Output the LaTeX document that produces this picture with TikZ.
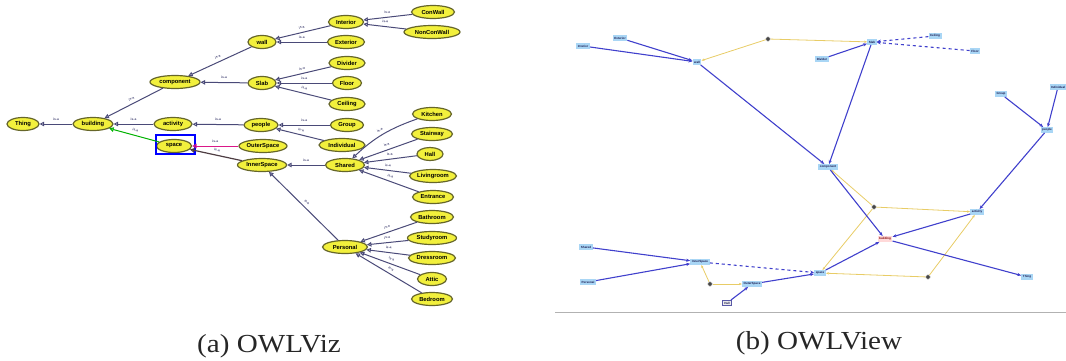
\documentclass[tikz,border=0pt]{standalone}
\usepackage{fontspec}
\setmainfont{Liberation Serif}
\newfontfamily\lblfont{Liberation Sans}
\usetikzlibrary{shapes.geometric,arrows.meta}
\definecolor{ovfill}{HTML}{F2F03C}
\definecolor{ovdraw}{HTML}{66662A}
\definecolor{isaedge}{HTML}{4A4A78}
\definecolor{bluedge}{HTML}{4040CC}
\definecolor{yeledge}{HTML}{E8CC66}
\definecolor{rbox}{HTML}{A9D6F5}
\definecolor{rtext}{HTML}{1A1A50}
\tikzset{
  ov/.style={ellipse, draw=ovdraw, fill=ovfill, line width=1.2pt, inner sep=0pt,
    minimum height=13, font=\lblfont\bfseries\fontsize{5.8}{6}\selectfont},
  isa/.style={draw=isaedge, line width=1pt, -{Triangle[open,length=4.5pt,width=4.5pt]}},
  isalbl/.style={font=\lblfont\bfseries\fontsize{3.3}{3.3}\selectfont, midway, above=0pt, sloped, text=isaedge},
  rn/.style={rectangle, fill=rbox, inner xsep=1.5pt, inner ysep=0.8pt, minimum height=5.5,
    text=rtext, font=\lblfont\bfseries\fontsize{3}{3.2}\selectfont},
  dotn/.style={circle, fill=gray!55!black, draw=gray!35, line width=0.5pt, inner sep=0pt, minimum size=4.5},
  be/.style={draw=bluedge, line width=1.1pt, -{Stealth[length=4pt,width=3.2pt]}},
  ye/.style={draw=yeledge, line width=0.8pt, -{Stealth[length=3pt,width=2.4pt]}},
  captext/.style={font=\fontsize{26}{28}\selectfont, xscale=1.12, text=black!85}
}
\begin{document}
\begin{tikzpicture}[x=1pt,y=-1pt]
\useasboundingbox (0,0) rectangle (1066,360);
% ---------- (a) OWLViz ----------
\node[ov, minimum width=32] (Thing) at (23,124) {Thing};
\node[ov, minimum width=40] (building) at (93,124) {building};
\node[ov, minimum width=50] (component) at (175,82) {component};
\node[ov, minimum width=38] (activity) at (173,124) {activity};
\node[ov, minimum width=35] (space) at (174,146) {space};
\node[draw=blue, line width=1.2pt, minimum width=39, minimum height=19, inner sep=0pt] (spacebox) at (175.5,144.5) {};
\node[ov, minimum width=28] (wall) at (262,42) {wall};
\node[ov, minimum width=28] (Slab) at (262,83) {Slab};
\node[ov, minimum width=34] (people) at (261,125) {people};
\node[ov, minimum width=48] (OuterSpace) at (263,146) {OuterSpace};
\node[ov, minimum width=49] (InnerSpace) at (262,165) {InnerSpace};
\node[ov, minimum width=35] (Interior) at (346,22) {Interior};
\node[ov, minimum width=37] (Exterior) at (346,42) {Exterior};
\node[ov, minimum width=36] (Divider) at (347,63) {Divider};
\node[ov, minimum width=29] (Floor) at (347,83) {Floor};
\node[ov, minimum width=36] (Ceiling) at (347,104) {Ceiling};
\node[ov, minimum width=33] (Group) at (347,125) {Group};
\node[ov, minimum width=46] (Individual) at (342,145) {Individual};
\node[ov, minimum width=39] (Shared) at (345,165) {Shared};
\node[ov, minimum width=45] (Personal) at (345,247) {Personal};
\node[ov, minimum width=43] (ConWall) at (433,12) {ConWall};
\node[ov, minimum width=56] (NonConWall) at (432,32) {NonConWall};
\node[ov, minimum width=39] (Kitchen) at (432,114) {Kitchen};
\node[ov, minimum width=41] (Stairway) at (432,134) {Stairway};
\node[ov, minimum width=26] (Hall) at (430,154) {Hall};
\node[ov, minimum width=47] (Livingroom) at (433,176) {Livingroom};
\node[ov, minimum width=41] (Entrance) at (433,197) {Entrance};
\node[ov, minimum width=43] (Bathroom) at (432,217) {Bathroom};
\node[ov, minimum width=49] (Studyroom) at (432,238) {Studyroom};
\node[ov, minimum width=47] (Dressroom) at (432,258) {Dressroom};
\node[ov, minimum width=29] (Attic) at (432,279) {Attic};
\node[ov, minimum width=41] (Bedroom) at (432,299) {Bedroom};
% is-a edges
\draw[isa] (building) -- node[isalbl]{is-a} (Thing);
\draw[isa] (component) -- node[isalbl]{is-a} (building);
\draw[isa] (activity) -- node[isalbl]{is-a} (building);
\draw[isa, draw=green!70!black] (space) -- node[isalbl]{is-a} (building);
\draw[isa] (wall) -- node[isalbl]{is-a} (component);
\draw[isa] (Slab) -- node[isalbl]{is-a} (component);
\draw[isa] (people) -- node[isalbl]{is-a} (activity);
\draw[isa, draw=magenta!90!black] (OuterSpace) -- node[isalbl]{is-a} (space);
\draw[isa, draw=black!80!magenta, line width=1.2pt] (InnerSpace) -- node[isalbl]{is-a} (space);
\draw[isa] (Interior) -- node[isalbl]{is-a} (wall);
\draw[isa] (Exterior) -- node[isalbl]{is-a} (wall);
\draw[isa] (Divider) -- node[isalbl]{is-a} (Slab);
\draw[isa] (Floor) -- node[isalbl]{is-a} (Slab);
\draw[isa] (Ceiling) -- node[isalbl]{is-a} (Slab);
\draw[isa] (Group) -- node[isalbl]{is-a} (people);
\draw[isa] (Individual) -- node[isalbl]{is-a} (people);
\draw[isa] (ConWall) -- node[isalbl]{is-a} (Interior);
\draw[isa] (NonConWall) -- node[isalbl]{is-a} (Interior);
\draw[isa] (Shared) -- node[isalbl]{is-a} (InnerSpace);
\draw[isa] (Personal) -- node[isalbl]{is-a} (InnerSpace);
\draw[isa] (Kitchen) to[bend right=12] node[isalbl]{is-a} (Shared);
\draw[isa] (Stairway) -- node[isalbl]{is-a} (Shared);
\draw[isa] (Hall) -- node[isalbl]{is-a} (Shared);
\draw[isa] (Livingroom) -- node[isalbl]{is-a} (Shared);
\draw[isa] (Entrance) -- node[isalbl]{is-a} (Shared);
\draw[isa] (Bathroom) -- node[isalbl]{is-a} (Personal);
\draw[isa] (Studyroom) -- node[isalbl]{is-a} (Personal);
\draw[isa] (Dressroom) -- node[isalbl]{is-a} (Personal);
\draw[isa] (Attic) -- node[isalbl]{is-a} (Personal);
\draw[isa] (Bedroom) -- node[isalbl]{is-a} (Personal);
% ---------- (b) OWLView ----------
\node[rn] (rInterior) at (583,46) {Interior};
\node[rn] (rExterior) at (620,38) {Exterior};
\node[rn] (rwall) at (697,62) {wall};
\node[dotn] (d1) at (768,39) {};
\node[rn] (rDivider) at (822,59) {Divider};
\node[rn] (rSlab) at (872,42) {Slab};
\node[rn] (rCeiling) at (935,36) {Ceiling};
\node[rn] (rFloor) at (975,51) {Floor};
\node[rn] (rGroup) at (1001,94) {Group};
\node[rn] (rIndividual) at (1058,87) {Individual};
\node[rn] (rpeople) at (1047,130) {people};
\node[rn] (rcomponent) at (828,167) {component};
\node[rn] (ractivity) at (977,212) {activity};
\node[dotn] (d2) at (874,207) {};
\node[rn, fill=pink!60, text=red!50!black] (rbuilding) at (885,239) {building};
\node[rn] (rThing) at (1027,277) {Thing};
\node[dotn] (d3) at (928,277) {};
\node[rn] (rspace) at (820,273) {space};
\node[rn] (rShared) at (586,247) {Shared};
\node[rn] (rPersonal) at (588,282) {Personal};
\node[rn] (rInnerSpace) at (700,262) {InnerSpace};
\node[dotn] (d4) at (710,284) {};
\node[rn] (rOuterSpace) at (752,284) {OuterSpace};
\node[rn, fill=gray!15, draw=gray!70!blue, line width=0.6pt, inner ysep=1.5pt] (rHall) at (727,303) {Hall};
% yellow edges
\draw[ye] (d1) -- (rwall);
\draw[ye] (d1) -- (rSlab);
\draw[ye] (d2) -- (rcomponent);
\draw[ye] (d2) -- (ractivity);
\draw[ye] (d2) -- (rspace);
\draw[ye] (d3) -- (rspace);
\draw[ye] (d3) -- (ractivity);
\draw[ye] (d4) -- (rInnerSpace);
\draw[ye] (d4) -- (rOuterSpace);
% blue edges
\draw[be] (rInterior) -- (rwall);
\draw[be] (rExterior) -- (rwall);
\draw[be] (rwall) -- (rcomponent);
\draw[be] (rDivider) -- (rSlab);
\draw[be, dashed] (rCeiling) -- (rSlab);
\draw[be, dashed] (rFloor) -- (rSlab);
\draw[be] (rSlab) -- (rcomponent);
\draw[be] (rGroup) -- (rpeople);
\draw[be] (rIndividual) -- (rpeople);
\draw[be] (rpeople) -- (ractivity);
\draw[be] (rcomponent) -- (rbuilding);
\draw[be] (ractivity) -- (rbuilding);
\draw[be] (rspace) -- (rbuilding);
\draw[be] (rbuilding) -- (rThing);
\draw[be] (rShared) -- (rInnerSpace);
\draw[be] (rPersonal) -- (rInnerSpace);
\draw[be, dashed] (rInnerSpace) -- (rspace);
\draw[be] (rOuterSpace) -- (rspace);
\draw[be] (rHall) -- (rOuterSpace);
% bottom rule of the panel
\coordinate (ruleL) at (555,312);
\coordinate (ruleR) at (1066,312);
\draw[gray!60, line width=1pt] (ruleL) -- (ruleR);
% ---------- captions ----------
\node[captext] (capa) at (269,346) {(a) OWLViz};
\node[captext] (capb) at (819,343) {(b) OWLView};
\end{tikzpicture}
\end{document}
